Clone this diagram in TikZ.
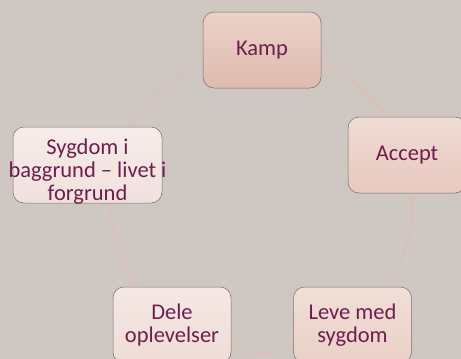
\documentclass[tikz,border=0pt]{standalone}
\usepackage{fontspec}
\setmainfont{Carlito}
\definecolor{bg}{HTML}{CEC7C2}
\definecolor{ringc}{HTML}{E4BBAD}
\definecolor{boxline}{HTML}{7A6B69}
\definecolor{txt}{HTML}{6E1E4E}
\definecolor{kampT}{HTML}{ECD1C8}
\definecolor{kampB}{HTML}{DFBBAF}
\definecolor{accT}{HTML}{F0DBD4}
\definecolor{accB}{HTML}{E8C9BF}
\definecolor{sygT}{HTML}{F6ECE9}
\definecolor{sygB}{HTML}{F1E1DC}
\definecolor{delT}{HTML}{F5E8E4}
\definecolor{delB}{HTML}{EFDCD6}
\definecolor{levT}{HTML}{F1DFD8}
\definecolor{levB}{HTML}{EAD0C7}
\begin{document}
\begin{tikzpicture}[x=1pt,y=-1pt,
  box/.style={rounded corners=11pt, draw=boxline, line width=0.5pt,
    minimum width=118pt, minimum height=76pt, align=center, text=txt,
    font=\fontsize{22.5}{23}\selectfont, inner sep=0pt},
  ring/.style={draw=ringc, line width=1.1pt}]
\useasboundingbox (0,0) rectangle (461,359);
\clip (0,0) rectangle (461,359);
\fill[bg] (0,0) rectangle (461,359);
\draw[ring] (262,202) circle (151pt);
\node[box, top color=kampT, bottom color=kampB] (kamp) at (262,50) {Kamp};
\node[box, top color=accT, bottom color=accB] (accept) at (407,155) {Accept};
\node[box, top color=levT, bottom color=levB] (leve) at (352.5,325) {Leve med\\sygdom};
\node[box, top color=delT, bottom color=delB] (dele) at (172,325) {Dele\\oplevelser};
\node[box, minimum width=149pt, top color=sygT, bottom color=sygB] (sygdom) at (87.5,165)
  {\raisebox{-13pt}[30pt][30pt]{\begin{tabular}{@{}c@{}}Sygdom i\\\makebox[140pt]{baggrund – livet i}\\forgrund\end{tabular}}};
\end{tikzpicture}
\end{document}
